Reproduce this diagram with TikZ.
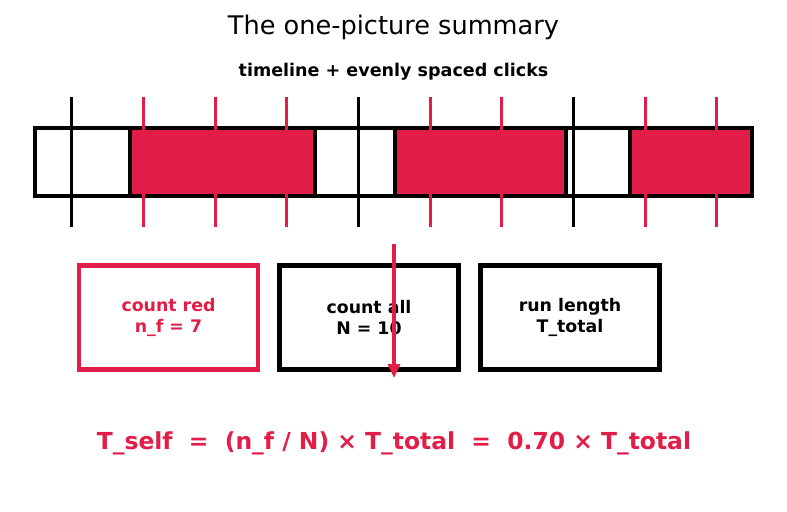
\documentclass[tikz,border=0pt]{standalone}
\usepackage{fontspec}
\setmainfont{DejaVu Sans}
\usetikzlibrary{arrows.meta}
\definecolor{crim}{HTML}{E11D48}
\tikzset{
  seg/.style={draw=black,line width=4bp},
  redseg/.style={seg,fill=crim},
  whiteseg/.style={seg,fill=white},
  blacktick/.style={draw=black,line width=3bp},
  redtick/.style={draw=crim,line width=3bp},
  infobox/.style={draw=black,line width=4.5bp,minimum width=179bp,minimum height=104bp,inner sep=0pt,align=center,font=\fontsize{17.4}{21.5}\selectfont\bfseries},
  redbox/.style={infobox,draw=crim,text=crim},
}
\begin{document}
\begin{tikzpicture}[x=1bp,y=-1bp]
\useasboundingbox[fill=white] (0,0) rectangle (787,512);
\node (title) at (393.5,27.5) {\fontsize{25.7}{30}\selectfont The one-picture summary};
\node (sub) at (393.5,71.5) {\fontsize{17.6}{21}\selectfont\bfseries timeline + evenly spaced clicks};
% timeline segments
\draw[whiteseg] (35,128) rectangle (130,196);
\draw[redseg] (130,128) rectangle (315,196);
\draw[whiteseg] (315,128) rectangle (395,196);
\draw[redseg] (395,128) rectangle (566,196);
\draw[whiteseg] (566,128) rectangle (630,196);
\draw[redseg] (630,128) rectangle (752,196);
% clicks
\foreach \x in {71,358,573} \draw[blacktick] (\x,97) -- (\x,227);
\foreach \x in {143,215,286,430,501,645,716} \draw[redtick] (\x,97) -- (\x,227);
% boxes
\node[redbox] (red) at (168.5,317.5) {count red\\n\_f = 7};
\node[infobox] (all) at (369,317.5) {count all\\N = 10};
\node[infobox] (len) at (570,317.5) {run length\\T\_total};
\coordinate (as) at (394,244);
\coordinate (ae) at (394,378);
\draw[crim,line width=3.5bp,-{Triangle[length=14bp,width=12bp]}] (as) -- (ae);
\node[text=crim,font=\fontsize{23.5}{28}\selectfont\bfseries] (formula) at (394,443) {T\_self\ \ =\ \ (n\_f / N) × T\_total\ \ =\ \ 0.70 × T\_total};
\end{tikzpicture}
\end{document}
